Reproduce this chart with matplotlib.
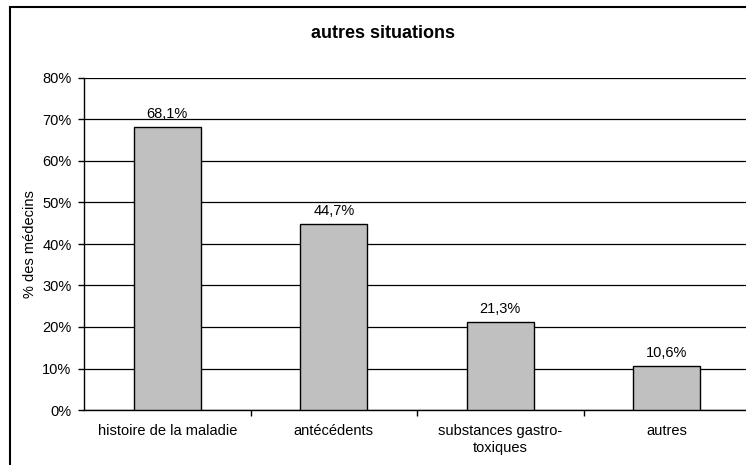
import matplotlib
matplotlib.use('Agg')
import matplotlib.pyplot as plt
from matplotlib.patches import Rectangle
import numpy as np

plt.rcParams['font.family'] = ['Liberation Sans', 'DejaVu Sans']

categories = ['histoire de la maladie', 'antécédents',
              'substances gastro-\ntoxiques', 'autres']
values = [68.1, 44.7, 21.3, 10.6]
value_labels = ['68,1%', '44,7%', '21,3%', '10,6%']
yticks = [0, 10, 20, 30, 40, 50, 60, 70, 80]

W, H = 746, 465
fs = 10.5
fig = plt.figure(figsize=(W / 100, H / 100), dpi=100)

# plot area is cut off at the right edge, like the source screenshot
x0, x1, y0, y1 = 84, 750, 410, 78
ax = fig.add_axes([x0 / W, 1 - y0 / H, (x1 - x0) / W, (y0 - y1) / H])

pos = np.arange(len(categories))
ax.bar(pos, values, width=0.4, color='#c0c0c0', edgecolor='black', linewidth=1, zorder=3)

for p, v, lab in zip(pos, values, value_labels):
    ax.annotate(lab, (p, v), xytext=(0, 6.5), textcoords='offset points',
                ha='center', va='baseline', fontsize=fs)

ax.set_xlim(-0.5, len(categories) - 0.5)
ax.set_ylim(0, 80)
ax.set_yticks(yticks)
ax.set_yticklabels([f'{t}%' for t in yticks])
ax.yaxis.grid(True, color='black', linewidth=0.9, zorder=0)
ax.set_axisbelow(True)

ax.set_xticks(pos[:-1] + 0.5)
ax.set_xticklabels([])
ax.set_xticks(pos, minor=True)
ax.set_xticklabels(categories, minor=True, fontsize=fs, linespacing=1.3)
ax.tick_params(axis='x', which='minor', length=0, pad=10)
ax.tick_params(axis='x', which='major', length=4, width=1, direction='out')
ax.tick_params(axis='y', length=4, width=1, direction='out', pad=5, labelsize=fs)

for s in ['top', 'right']:
    ax.spines[s].set_visible(False)
ax.spines['left'].set_linewidth(1)
ax.spines['bottom'].set_linewidth(1)

ax.set_ylabel('% des médecins', fontsize=fs)
ax.yaxis.set_label_coords(-(84 - 37) / (x1 - x0), 1 - (244 - y1) / (y0 - y1))

fig.text(383 / W, 1 - 33 / H, 'autres situations', ha='center', va='center',
         fontsize=13, fontweight='bold')

# chart area frame, also cut off at right and bottom
fig.patches.append(Rectangle((10 / W, -0.2), 1.2, 1.2 - 7 / H, transform=fig.transFigure,
                             fill=False, edgecolor='black', linewidth=1.5))

fig.savefig('out.png', dpi=100)
